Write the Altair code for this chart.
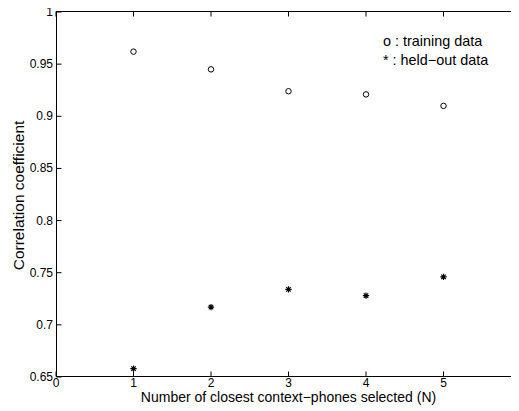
import altair as alt
import pandas as pd

# ---- data ----
N = [1, 2, 3, 4, 5]
training = [0.962, 0.945, 0.924, 0.921, 0.910]
heldout = [0.658, 0.717, 0.734, 0.728, 0.746]
x_domain = [0, 6]
y_domain = [0.65, 1.0]
x_ticks = [0, 1, 2, 3, 4, 5, 6]
y_ticks = [0.65, 0.7, 0.75, 0.8, 0.85, 0.9, 0.95, 1.0]
legend_lines = ["o : training data", "* : held\u2212out data"]
x_title = "Number of closest context\u2212phones selected (N)"
y_title = "Correlation coefficient"

x_mid = (x_domain[0] + x_domain[1]) / 2
y_mid = (y_domain[0] + y_domain[1]) / 2

df_train = pd.DataFrame({"N": N, "r": training})
df_held = pd.DataFrame({"N": N, "r": heldout})
df_xt = pd.DataFrame({"v": x_ticks, "lo": y_domain[0], "hi": y_domain[1]})
df_yt = pd.DataFrame({"v": y_ticks, "lo": x_domain[0], "hi": x_domain[1]})
frame_h = pd.DataFrame({"y": y_domain, "x0": [x_domain[0]] * 2, "x1": [x_domain[1]] * 2,
                        "xm": [x_mid] * 2})
frame_v = pd.DataFrame({"x": x_domain, "y0": [y_domain[0]] * 2, "y1": [y_domain[1]] * 2,
                        "ym": [y_mid] * 2})
df_leg1 = pd.DataFrame({"t": [legend_lines[0]]})
df_leg2 = pd.DataFrame({"t": [legend_lines[1]]})
df_xtitle = pd.DataFrame({"t": [x_title]})
df_ytitle = pd.DataFrame({"t": [y_title]})

FONT = "Liberation Sans"
W, H = 455, 365
XR = 465  # full x range; the right edge lies just beyond the window
xscale = alt.Scale(domain=x_domain, range=[0, XR], nice=False, zero=False)
yscale = alt.Scale(domain=y_domain, nice=False, zero=False)

STAR = "M-1,0L1,0M0,-1L0,1M-0.7,-0.7L0.7,0.7M-0.7,0.7L0.7,-0.7"
HLINE = "M-1,0L1,0"
VLINE = "M0,-1L0,1"
T_UP = "M0,0L0,-1"
T_DOWN = "M0,0L0,1"
T_RIGHT = "M0,0L1,0"
T_LEFT = "M0,0L-1,0"
TK = 5


def X(field):
    return alt.X(field, scale=xscale, axis=None)


def Y(field):
    return alt.Y(field, scale=yscale, axis=None)


def stroke_symbol(shape, size, **kw):
    return dict(shape=shape, size=size, filled=False, stroke="black",
                strokeWidth=1, opacity=1, **kw)


# frame: drawn as rules and, identically, as line-shaped symbols
fh = alt.Chart(frame_h).mark_rule(color="black", strokeWidth=1, yOffset=-0.5).encode(
    x=X("x0:Q"), x2="x1:Q", y=Y("y:Q"))
fv = alt.Chart(frame_v).mark_rule(color="black", strokeWidth=1, xOffset=0.5).encode(
    x=X("x:Q"), y=Y("y0:Q"), y2="y1:Q")
fh_s = alt.Chart(frame_h).mark_point(**stroke_symbol(HLINE, XR * XR, yOffset=-0.5)).encode(
    x=X("xm:Q"), y=Y("y:Q"))
fv_s = alt.Chart(frame_v).mark_point(**stroke_symbol(VLINE, H * H, xOffset=0.5)).encode(
    x=X("x:Q"), y=Y("ym:Q"))

# inward ticks as tick-shaped symbols
TS = (2 * TK) ** 2
tb = alt.Chart(df_xt).mark_point(**stroke_symbol(T_UP, TS, yOffset=-0.5)).encode(
    x=X("v:Q"), y=Y("lo:Q"))
tt = alt.Chart(df_xt).mark_point(**stroke_symbol(T_DOWN, TS, yOffset=-0.5)).encode(
    x=X("v:Q"), y=Y("hi:Q"))
tl = alt.Chart(df_yt).mark_point(**stroke_symbol(T_RIGHT, TS, xOffset=0.5)).encode(
    x=X("lo:Q"), y=Y("v:Q"))
tr = alt.Chart(df_yt).mark_point(**stroke_symbol(T_LEFT, TS)).encode(
    x=X("hi:Q"), y=Y("v:Q"))

# tick labels
xl = alt.Chart(df_xt).mark_text(
    align="center", baseline="alphabetic", dy=10, font=FONT, fontSize=12, color="black"
).encode(x=X("v:Q"), y=Y("lo:Q"), text=alt.Text("v:Q", format="d"))
yl = alt.Chart(df_yt).mark_text(
    align="right", baseline="middle", dx=-3, font=FONT, fontSize=12, color="black"
).encode(y=Y("v:Q"), x=X("lo:Q"), text=alt.Text("v:Q", format="~g"))

# axis titles
xt = alt.Chart(df_xtitle).mark_text(
    align="center", baseline="alphabetic", font=FONT, fontSize=14, color="black"
).encode(x=alt.value(232.5), y=alt.value(390), text="t:N")
yt = alt.Chart(df_ytitle).mark_text(
    align="center", baseline="alphabetic", angle=270, font=FONT, fontSize=15.5,
    color="black"
).encode(x=alt.value(-32), y=alt.value(183.5), text="t:N")

# training circles
l1 = alt.Chart(df_train).mark_point(
    shape="circle", filled=False, size=30, stroke="black", strokeWidth=1, opacity=1
).encode(x=X("N:Q"), y=Y("r:Q"))

# held-out stars
l2 = alt.Chart(df_held).mark_point(
    shape=STAR, filled=False, size=40, stroke="black", strokeWidth=1.2, opacity=1
).encode(x=X("N:Q"), y=Y("r:Q"))

t1 = alt.Chart(df_leg1).mark_text(
    align="left", baseline="alphabetic", font=FONT, fontSize=14.4, color="black"
).encode(x=alt.value(327), y=alt.value(34), text="t:N")

t2 = alt.Chart(df_leg2).mark_text(
    align="left", baseline="alphabetic", font=FONT, fontSize=14.4, color="black"
).encode(x=alt.value(327), y=alt.value(53), text="t:N")

chart = alt.layer(
    fh, fv, fh_s, fv_s, tb, tt, tl, tr, xl, yl, xt, yt, l1, l2, t1, t2
).properties(
    width=W, height=H,
    autosize=alt.AutoSizeParams(type="none"),
    padding={"left": 48, "top": 4, "right": 0, "bottom": 28},
    background="white",
).configure_view(stroke=None)

chart.save("out.html", embed_options={"renderer": "svg", "actions": False})
